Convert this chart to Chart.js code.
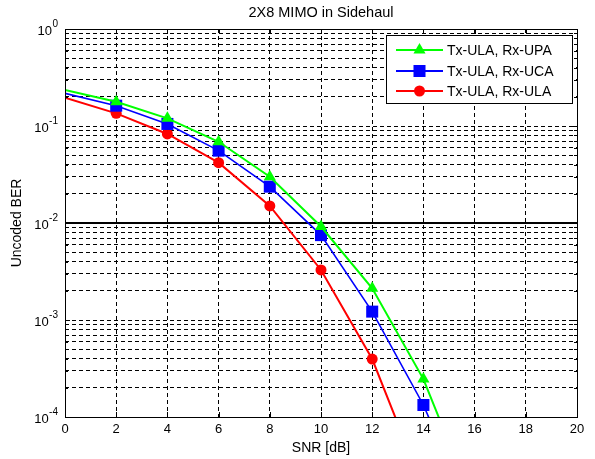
<!DOCTYPE html>
<html>
<head>
<meta charset="utf-8">
<script src="https://cdn.jsdelivr.net/npm/chart.js@4.4.1/dist/chart.umd.min.js"></script>
<style>
  html, body { margin: 0; padding: 0; background: #fff; }
</style>
</head>
<body>
<canvas id="chart" width="595" height="459"></canvas>
<script>
const snr = [0, 2, 4, 6, 8, 10, 12, 14, 16];
const berUPA = [0.235, 0.178, 0.120, 0.0688, 0.0300, 0.0092, 0.00212, 0.000246, 0.000012];
const berUCA = [0.217, 0.162, 0.105, 0.0557, 0.0237, 0.0075, 0.00122, 0.000133, 0.000008];
const berULA = [0.196, 0.135, 0.0828, 0.0419, 0.0150, 0.00328, 0.000396, 0.0000185];
const seriesNames = ['Tx-ULA, Rx-UPA', 'Tx-ULA, Rx-UCA', 'Tx-ULA, Rx-ULA'];
const targetBer = 0.01;
const xTicks = [0, 2, 4, 6, 8, 10, 12, 14, 16, 18, 20];
const yDecades = [-4, -3, -2, -1, 0];
const yMinorSteps = [2, 3, 4, 5, 6, 7, 8, 9];

const FONT = '"Liberation Sans", Arial, sans-serif';

function toPoints(ys) {
    return ys.map((y, i) => ({ x: snr[i], y: y }));
}

// every grid line position on the log axis
const yGrid = [];
yDecades.forEach(e => {
    yGrid.push(Math.pow(10, e));
    if (e < 0) yMinorSteps.forEach(m => yGrid.push(m * Math.pow(10, e)));
});
yGrid.sort((a, b) => a - b);

const styles = [
    { color: '#00ff00', shape: 'triangle', radius: 7, width: 2 },
    { color: '#0000ff', shape: 'rect', radius: 8.5, width: 1.6 },
    { color: '#ff0000', shape: 'circle', radius: 5.5, width: 2 }
];

function markerSize(r) {
    return ctx => (ctx.dataIndex === 0 ? 0 : r);
}

const datasets = [berUPA, berUCA, berULA].map((ys, k) => ({
    label: seriesNames[k],
    data: toPoints(ys),
    borderColor: styles[k].color,
    backgroundColor: styles[k].color,
    borderWidth: styles[k].width,
    pointStyle: styles[k].shape,
    pointRadius: markerSize(styles[k].radius),
    pointBorderWidth: 0,
    pointHoverRadius: 0,
    tension: 0,
    clip: 0
}));

datasets.push({
    label: 'target',
    data: [{ x: 0, y: targetBer }, { x: 20, y: targetBer }],
    borderColor: '#000',
    borderWidth: 2,
    pointRadius: 0,
    clip: 0
});

const matlabLook = {
    id: 'matlabLook',
    afterDraw(chart) {
        const ctx = chart.ctx;
        const a = chart.chartArea;
        const xs = chart.scales.x;
        const ys = chart.scales.y;

        ctx.save();
        ctx.strokeStyle = '#000';
        ctx.lineWidth = 1;
        ctx.setLineDash([]);

        // tick marks inside the box
        ctx.beginPath();
        xTicks.forEach(v => {
            const px = Math.round(xs.getPixelForValue(v)) + 0.5;
            ctx.moveTo(px, a.bottom); ctx.lineTo(px, a.bottom - 5);
            ctx.moveTo(px, a.top); ctx.lineTo(px, a.top + 5);
        });
        yGrid.forEach(v => {
            const py = Math.round(ys.getPixelForValue(v)) + 0.5;
            const len = Math.abs(Math.log10(v) % 1) < 1e-9 ? 5 : 3;
            ctx.moveTo(a.left, py); ctx.lineTo(a.left + len, py);
            ctx.moveTo(a.right, py); ctx.lineTo(a.right - len, py);
        });
        ctx.stroke();

        // frame
        ctx.strokeRect(Math.round(a.left) + 0.5, Math.round(a.top) + 0.5,
            Math.round(a.right - a.left), Math.round(a.bottom - a.top));

        // y labels 10^n
        ctx.fillStyle = '#000';
        ctx.textBaseline = 'middle';
        yDecades.forEach(e => {
            const py = ys.getPixelForValue(Math.pow(10, e));
            const expo = e === 0 ? '0' : '-' + Math.abs(e);
            ctx.font = '10px ' + FONT;
            const ew = ctx.measureText(expo).width;
            ctx.textAlign = 'left';
            ctx.fillText(expo, 58 - ew, py - 5);
            ctx.font = '13px ' + FONT;
            ctx.textAlign = 'right';
            ctx.fillText('10', 58 - ew - 0.5, py + 2);
        });

        // title
        ctx.font = '14.5px ' + FONT;
        ctx.textAlign = 'center';
        ctx.fillText('2X8 MIMO in Sidehaul', (a.left + a.right) / 2, 13);

        // legend
        const box = { x: 386.5, y: 35.5, w: 186, h: 68 };
        ctx.fillStyle = '#fff';
        ctx.fillRect(box.x, box.y, box.w, box.h);
        ctx.strokeStyle = '#000';
        ctx.strokeRect(box.x, box.y, box.w, box.h);
        const rows = [50, 71, 91];
        rows.forEach((ry, k) => {
            const s = styles[k];
            ctx.strokeStyle = s.color;
            ctx.lineWidth = 2;
            ctx.beginPath();
            ctx.moveTo(396, ry); ctx.lineTo(443, ry);
            ctx.stroke();
            ctx.fillStyle = s.color;
            Chart.helpers.drawPoint(ctx, { pointStyle: s.shape, radius: s.radius, borderWidth: 0, rotation: 0 }, 419.5, ry);
            ctx.fillStyle = '#000';
            ctx.font = '14px ' + FONT;
            ctx.textAlign = 'left';
            ctx.textBaseline = 'middle';
            ctx.fillText(seriesNames[k], 447, ry + 1);
        });
        ctx.restore();
    }
};

new Chart(document.getElementById('chart'), {
    type: 'line',
    data: { datasets: datasets },
    options: {
        responsive: false,
        animation: false,
        devicePixelRatio: 1,
        layout: { padding: { top: 29, right: 18, left: 0, bottom: 0 } },
        plugins: {
            legend: { display: false },
            tooltip: { enabled: false },
            title: { display: false }
        },
        scales: {
            x: {
                type: 'linear',
                min: 0,
                max: 20,
                afterBuildTicks: s => { s.ticks = xTicks.map(v => ({ value: v })); },
                afterFit: s => { s.height = 42; },
                ticks: { color: '#000', font: { family: FONT, size: 13 }, padding: 5, autoSkip: false, maxRotation: 0 },
                grid: { color: '#000', lineWidth: 1, drawTicks: false },
                border: { display: false, dash: [4, 3] },
                title: { display: true, text: 'SNR [dB]', color: '#000', font: { family: FONT, size: 14 }, padding: { top: 0, bottom: 2 } }
            },
            y: {
                type: 'logarithmic',
                min: 1e-4,
                max: 1,
                afterBuildTicks: s => { s.ticks = yGrid.map(v => ({ value: v })); },
                afterFit: s => { s.width = 65; },
                ticks: { display: false, autoSkip: false },
                grid: { color: '#000', lineWidth: 1, drawTicks: false },
                border: { display: false, dash: [4, 3] },
                title: { display: true, text: 'Uncoded BER', color: '#000', font: { family: FONT, size: 14 }, padding: { top: 9, bottom: 0 } }
            }
        }
    },
    plugins: [matlabLook]
});
</script>
</body>
</html>
